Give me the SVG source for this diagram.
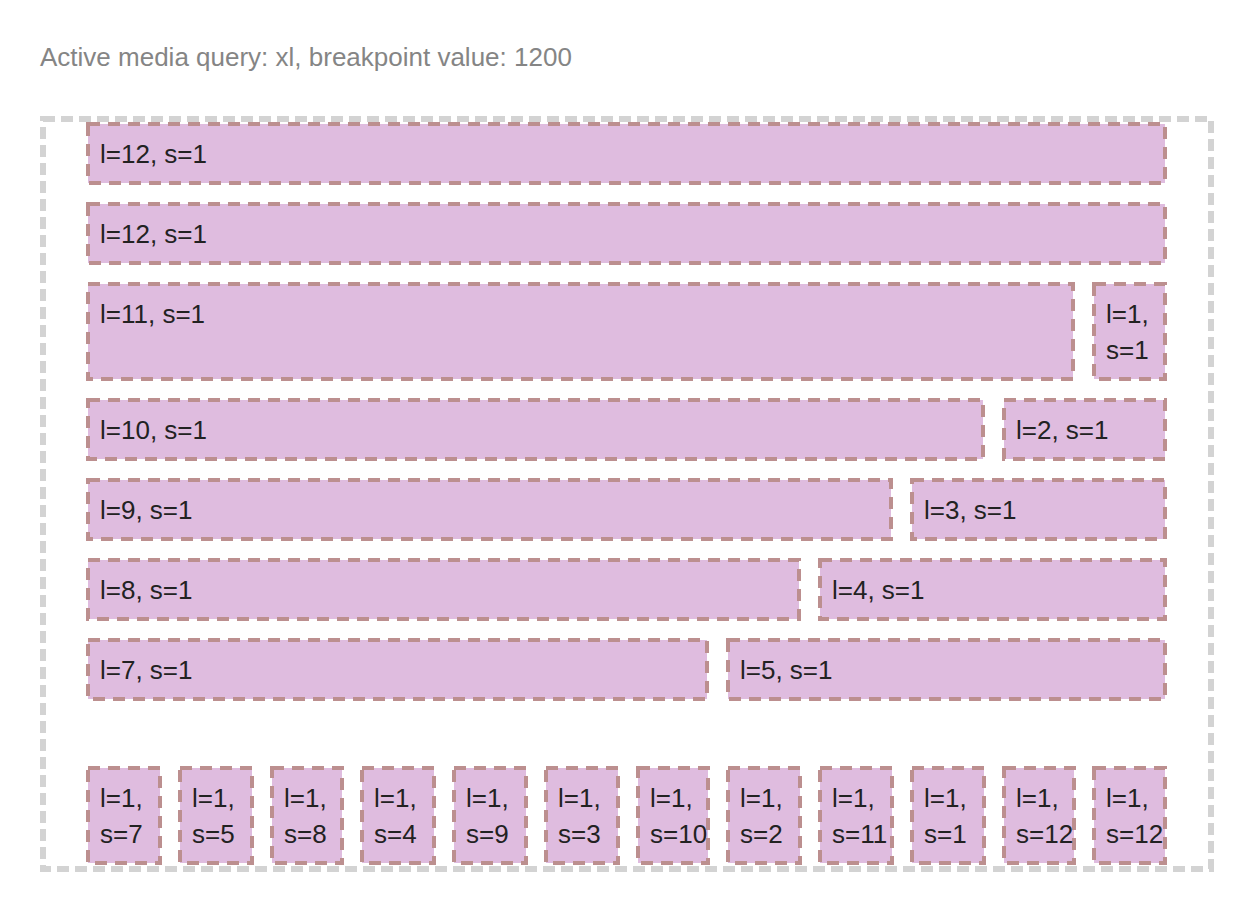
<svg xmlns="http://www.w3.org/2000/svg" width="1242" height="912" viewBox="0 0 1242 912">
<style>
.bg{fill:#ffffff}
.outer{fill:none;stroke:#d3d3d3;stroke-width:6;stroke-dasharray:12 6}
.box{fill:#dfbcdf;stroke:#bc8f8f;stroke-width:4;stroke-dasharray:12 8}
.t{font-family:"Liberation Sans",Arial,sans-serif;font-size:26px;fill:#222222}
.h{font-family:"Liberation Sans",Arial,sans-serif;font-size:26px;fill:#858585}
</style>
<rect class="bg" x="0" y="0" width="1242" height="912"/>
<text class="h" x="40" y="66">Active media query: xl, breakpoint value: 1200</text>
<g id="container"><rect class="outer" x="43" y="119" width="1168" height="750"/></g>
<g id="connectors"></g>
<g id="r1a"><rect class="box" x="88" y="124" width="1077" height="59"/><text class="t" x="100" y="163">l=12, s=1</text></g>
<g id="r2a"><rect class="box" x="88" y="204" width="1077" height="59"/><text class="t" x="100" y="243">l=12, s=1</text></g>
<g id="r3a"><rect class="box" x="88" y="284" width="985" height="95"/><text class="t" x="100" y="323">l=11, s=1</text></g>
<g id="r3b"><rect class="box" x="1094" y="284" width="71" height="95"/><text class="t" x="1106" y="323">l=1,</text><text class="t" x="1106" y="359">s=1</text></g>
<g id="r4a"><rect class="box" x="88" y="400" width="895" height="59"/><text class="t" x="100" y="439">l=10, s=1</text></g>
<g id="r4b"><rect class="box" x="1004" y="400" width="161" height="59"/><text class="t" x="1016" y="439">l=2, s=1</text></g>
<g id="r5a"><rect class="box" x="88" y="480" width="803" height="59"/><text class="t" x="100" y="519">l=9, s=1</text></g>
<g id="r5b"><rect class="box" x="912" y="480" width="253" height="59"/><text class="t" x="924" y="519">l=3, s=1</text></g>
<g id="r6a"><rect class="box" x="88" y="560" width="711" height="59"/><text class="t" x="100" y="599">l=8, s=1</text></g>
<g id="r6b"><rect class="box" x="820" y="560" width="345" height="59"/><text class="t" x="832" y="599">l=4, s=1</text></g>
<g id="r7a"><rect class="box" x="88" y="640" width="619" height="59"/><text class="t" x="100" y="679">l=7, s=1</text></g>
<g id="r7b"><rect class="box" x="728" y="640" width="437" height="59"/><text class="t" x="740" y="679">l=5, s=1</text></g>
<g id="b1"><rect class="box" x="88" y="768" width="72" height="95"/><text class="t" x="100" y="807">l=1,</text><text class="t" x="100" y="843">s=7</text></g>
<g id="b2"><rect class="box" x="180" y="768" width="72" height="95"/><text class="t" x="192" y="807">l=1,</text><text class="t" x="192" y="843">s=5</text></g>
<g id="b3"><rect class="box" x="272" y="768" width="70" height="95"/><text class="t" x="284" y="807">l=1,</text><text class="t" x="284" y="843">s=8</text></g>
<g id="b4"><rect class="box" x="362" y="768" width="72" height="95"/><text class="t" x="374" y="807">l=1,</text><text class="t" x="374" y="843">s=4</text></g>
<g id="b5"><rect class="box" x="454" y="768" width="72" height="95"/><text class="t" x="466" y="807">l=1,</text><text class="t" x="466" y="843">s=9</text></g>
<g id="b6"><rect class="box" x="546" y="768" width="72" height="95"/><text class="t" x="558" y="807">l=1,</text><text class="t" x="558" y="843">s=3</text></g>
<g id="b7"><rect class="box" x="638" y="768" width="70" height="95"/><text class="t" x="650" y="807">l=1,</text><text class="t" x="650" y="843">s=10</text></g>
<g id="b8"><rect class="box" x="728" y="768" width="72" height="95"/><text class="t" x="740" y="807">l=1,</text><text class="t" x="740" y="843">s=2</text></g>
<g id="b9"><rect class="box" x="820" y="768" width="72" height="95"/><text class="t" x="832" y="807">l=1,</text><text class="t" x="832" y="843">s=11</text></g>
<g id="b10"><rect class="box" x="912" y="768" width="72" height="95"/><text class="t" x="924" y="807">l=1,</text><text class="t" x="924" y="843">s=1</text></g>
<g id="b11"><rect class="box" x="1004" y="768" width="70" height="95"/><text class="t" x="1016" y="807">l=1,</text><text class="t" x="1016" y="843">s=12</text></g>
<g id="b12"><rect class="box" x="1094" y="768" width="71" height="95"/><text class="t" x="1106" y="807">l=1,</text><text class="t" x="1106" y="843">s=12</text></g>
</svg>
